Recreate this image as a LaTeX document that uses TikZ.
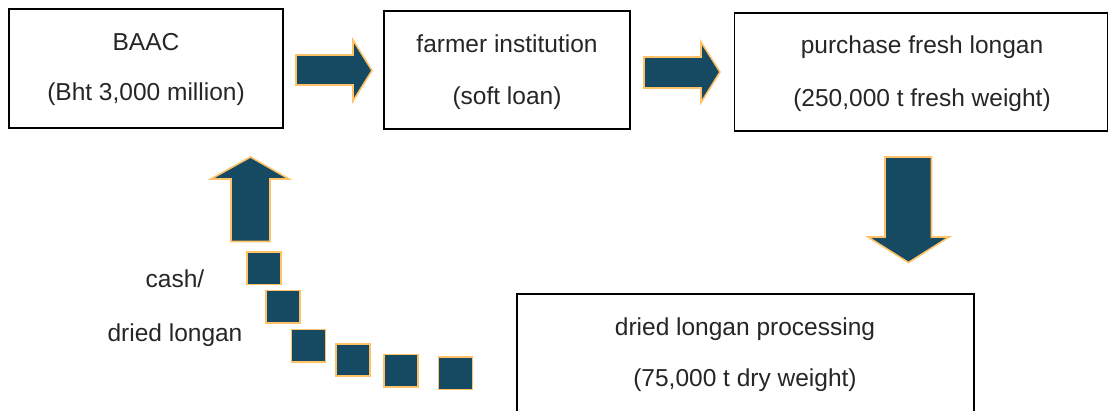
\documentclass[tikz,border=0pt]{standalone}
\usepackage{fontspec}
\setmainfont{Liberation Sans}
\definecolor{arrowfill}{RGB}{22,74,99}
\definecolor{arrowedge}{RGB}{255,194,102}
\begin{document}
\begin{tikzpicture}[x=1pt,y=-1pt,
  box/.style={draw=black,line width=1.6pt,rectangle,inner sep=0pt,fill=white},
  txt/.style={anchor=base,inner sep=0pt,font=\fontsize{24.5}{28}\selectfont,text=black!85},
  blockarrow/.style={fill=arrowfill,draw=arrowedge,line width=1.6pt,line join=miter},
  sq/.style={fill=arrowfill,draw=arrowedge,line width=1.6pt,rectangle,inner sep=0pt,minimum width=34pt,minimum height=32.5pt}]
\useasboundingbox (0,0) rectangle (1109,410);
\clip (0,0) rectangle (1109,410);
% boxes
\node[box,minimum width=274pt,minimum height=119pt] (baac) at (146,68.5) {};
\node[box,minimum width=246pt,minimum height=118pt] (farm) at (507,70) {};
\node[box,minimum width=373pt,minimum height=118pt] (purch) at (921,72) {};
\node[box,minimum width=457pt,minimum height=140pt] (proc) at (745.5,364) {};
% texts
\node[txt] (t1a) at (146,50) {BAAC};
\node[txt] (t1b) at (146,100) {(Bht 3,000 million)};
\node[txt] (t2a) at (507,52) {farmer institution};
\node[txt] (t2b) at (507,104) {(soft loan)};
\node[txt] (t3a) at (922,53) {purchase fresh longan};
\node[txt] (t3b) at (922,106) {(250,000 t fresh weight)};
\node[txt] (t4a) at (745,335) {dried longan processing};
\node[txt] (t4b) at (745,386.5) {(75,000 t dry weight)};
\node[txt] (c1) at (175,287) {cash/};
\node[txt] (c2) at (175,341.5) {dried longan};
% block arrows
\draw[blockarrow] (296,55) -- (353,55) -- (353,40) -- (372,70.5) -- (353,101) -- (353,85) -- (296,85) -- cycle;
\draw[blockarrow] (644,57) -- (701,57) -- (701,42) -- (720,72) -- (701,102.5) -- (701,88) -- (644,88) -- cycle;
\draw[blockarrow] (885,157) -- (931.5,157) -- (931.5,237) -- (949,237) -- (908.5,262.5) -- (868,237) -- (885,237) -- cycle;
\draw[blockarrow] (231,241.5) -- (231,179) -- (211,179) -- (250.5,157) -- (289,179) -- (270,179) -- (270,241.5) -- cycle;
% squares
\node[sq] (s1) at (264,268.3) {};
\node[sq] (s2) at (283,306.8) {};
\node[sq] (s3) at (308.5,345.8) {};
\node[sq] (s4) at (352.8,360) {};
\node[sq] (s5) at (401,370.8) {};
\node[sq] (s6) at (455.4,373.3) {};
\end{tikzpicture}
\end{document}
